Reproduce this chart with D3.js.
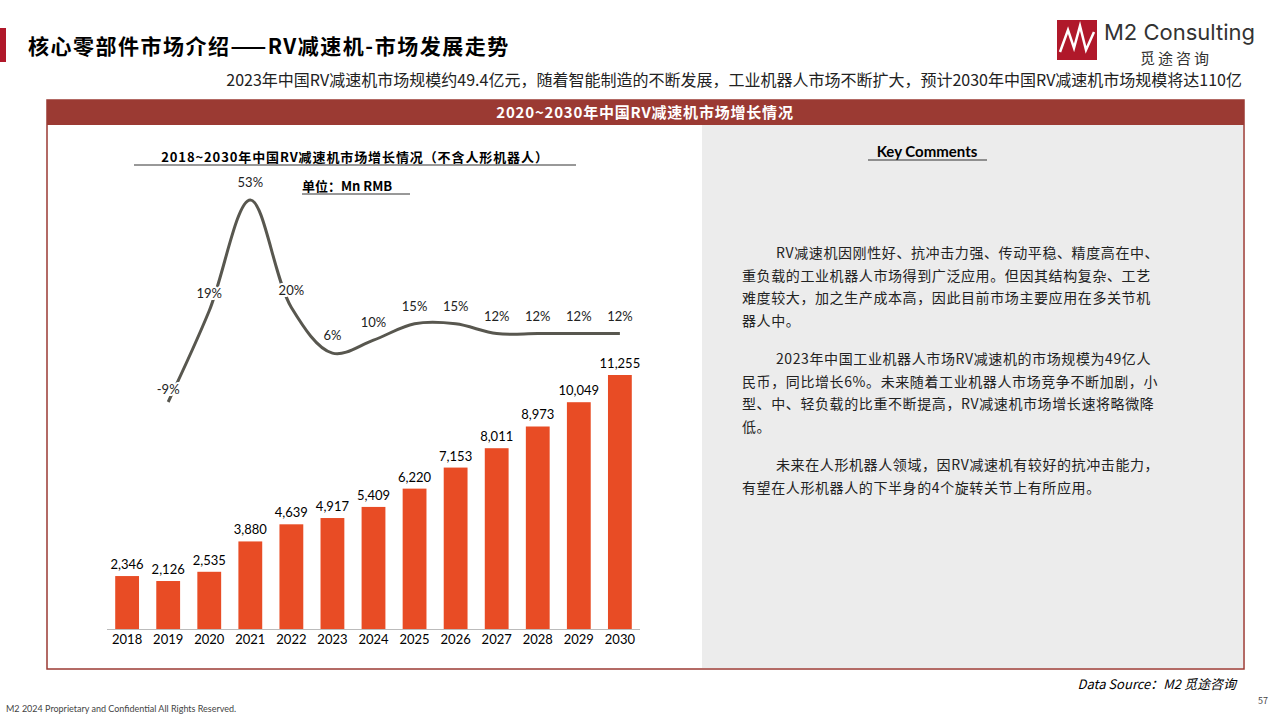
<!DOCTYPE html><html><head><meta charset="utf-8"><script src="https://cdn.jsdelivr.net/npm/d3@7"></script>
<style>body{margin:0;background:#fff;font-family:"Noto Sans CJK SC","Noto Sans",sans-serif}</style></head><body>
<svg id="c" width="1280" height="720"></svg>
<script>
const years=["2018","2019","2020","2021","2022","2023","2024","2025","2026","2027","2028","2029","2030"];
const sizes=[2346,2126,2535,3880,4639,4917,5409,6220,7153,8011,8973,10049,11255];
const growthYears=["2019","2020","2021","2022","2023","2024","2025","2026","2027","2028","2029","2030"];
const growth=[-9,19,53,20,6,10,15,15,12,12,12,12];
const growthLabels=["-9%","19%","53%","20%","6%","10%","15%","15%","12%","12%","12%","12%"];
const comments=[
["RV减速机因刚性好、抗冲击力强、传动平稳、精度高在中、","重负载的工业机器人市场得到广泛应用。但因其结构复杂、工艺","难度较大，加之生产成本高，因此目前市场主要应用在多关节机","器人中。"],
["2023年中国工业机器人市场RV减速机的市场规模为49亿人","民币，同比增长6%。未来随着工业机器人市场竞争不断加剧，小","型、中、轻负载的比重不断提高，RV减速机市场增长速将略微降","低。"],
["未来在人形机器人领域，因RV减速机有较好的抗冲击能力，","有望在人形机器人的下半身的4个旋转关节上有所应用。"]];
const svg=d3.select("#c");
const cjk='"Noto Sans CJK SC",sans-serif';
svg.append("rect").attr("x",0).attr("y",28).attr("width",6).attr("height",34).attr("fill","#b0182a");
svg.append("text").attr("x",28).attr("y",54).attr("font-size",21).attr("font-weight",700).attr("font-family",cjk).attr("letter-spacing",1.5).text("核心零部件市场介绍——RV减速机-市场发展走势");
svg.append("text").attr("x",1242).attr("y",86).attr("text-anchor","end").attr("font-size",16).attr("font-family",cjk).attr("fill","#222").text("2023年中国RV减速机市场规模约49.4亿元，随着智能制造的不断发展，工业机器人市场不断扩大，预计2030年中国RV减速机市场规模将达110亿");
svg.append("rect").attr("x",1057).attr("y",20).attr("width",40).attr("height",40).attr("fill","#b0182a");
svg.append("path").attr("d","M1060,52 L1068,30 L1074,48 L1080,26 L1086,50 L1094,32").attr("stroke","#fff").attr("stroke-width",2.5).attr("fill","none");
svg.append("text").attr("x",1104).attr("y",40).attr("font-size",22).attr("font-family","Inter,sans-serif").attr("fill","#333").text("M2 Consulting");
svg.append("text").attr("x",1140).attr("y",64).attr("font-size",15).attr("font-family",cjk).attr("fill","#333").attr("letter-spacing",3).text("觅途咨询");
svg.append("rect").attr("x",47).attr("y",100).attr("width",1197).attr("height",569).attr("fill","#fff").attr("stroke","#9b3a33").attr("stroke-width",1.5);
svg.append("rect").attr("x",702).attr("y",125).attr("width",541).attr("height",543).attr("fill","#ececec");
svg.append("rect").attr("x",47).attr("y",100).attr("width",1197).attr("height",25).attr("fill","#9b3a33");
svg.append("text").attr("x",645).attr("y",118).attr("text-anchor","middle").attr("fill","#fff").attr("font-size",15).attr("font-weight",700).attr("font-family",cjk).attr("letter-spacing",0.8).text("2020~2030年中国RV减速机市场增长情况");
svg.append("text").attr("x",355).attr("y",162).attr("text-anchor","middle").attr("font-size",13).attr("font-weight",700).attr("font-family",cjk).attr("letter-spacing",0.9).text("2018~2030年中国RV减速机市场增长情况（不含人形机器人）");
svg.append("line").attr("x1",134).attr("x2",576).attr("y1",165).attr("y2",165).attr("stroke","#333");
svg.append("text").attr("x",302).attr("y",191).attr("font-size",13).attr("font-weight",700).attr("font-family",cjk).text("单位：Mn RMB");
svg.append("line").attr("x1",302).attr("x2",410).attr("y1",194).attr("y2",194).attr("stroke","#333");
const x=d3.scaleBand().domain(years).range([107,640]).paddingInner(0.42).paddingOuter(0.2);
const y=d3.scaleLinear().domain([0,11255]).range([629,375]);
const yg=d3.scaleLinear().domain([-9,53]).range([402,200]);
svg.append("g").selectAll("rect").data(sizes).join("rect").attr("x",(d,i)=>x(years[i])).attr("width",x.bandwidth()).attr("y",d=>y(d)).attr("height",d=>629-y(d)).attr("fill","#e84c25");
svg.append("line").attr("x1",107).attr("x2",640).attr("y1",629.5).attr("y2",629.5).attr("stroke","#bbb");
const cx=yr=>x(yr)+x.bandwidth()/2;
svg.append("g").selectAll("text").data(sizes).join("text").attr("x",(d,i)=>cx(years[i])).attr("y",d=>y(d)-7).attr("text-anchor","middle").attr("font-size",13).attr("font-family","Lato,sans-serif").text(d=>d3.format(",")(d));
svg.append("g").attr("transform","translate(0,629)").call(d3.axisBottom(x).tickSize(0).tickPadding(6)).call(g=>{g.select(".domain").remove();g.selectAll("text").attr("font-size",13).attr("font-family","Lato,sans-serif").attr("fill","#000");});
svg.append("path").datum(growth).attr("d",d3.line().x((d,i)=>cx(growthYears[i])).y(d=>yg(d)).curve(d3.curveCatmullRom.alpha(0.5))).attr("fill","none").attr("stroke","#58574f").attr("stroke-width",3);
svg.append("g").selectAll("text").data(growth).join("text").attr("x",(d,i)=>cx(growthYears[i])).attr("y",(d,i)=>i===0?yg(d)-8:yg(d)-13).attr("text-anchor","middle").attr("font-size",13).attr("font-family","Lato,sans-serif").attr("fill","#222").attr("paint-order","stroke").attr("stroke",(d,i)=>(i===1||i===3||i===0)?"#fff":"none").attr("stroke-width",4).text((d,i)=>growthLabels[i]);
svg.append("text").attr("x",927).attr("y",157).attr("text-anchor","middle").attr("font-size",15).attr("font-weight",700).attr("font-family","Lato,sans-serif").text("Key Comments");
svg.append("line").attr("x1",868).attr("x2",987).attr("y1",160).attr("y2",160).attr("stroke","#333");
let yy=258;
comments.forEach(p=>{p.forEach((l,j)=>{svg.append("text").attr("x",j===0?776:742).attr("y",yy).attr("font-size",14).attr("font-family",cjk).attr("fill","#222").attr("letter-spacing",0.6).text(l);yy+=22.5;});yy+=16;});
svg.append("text").attr("x",1236).attr("y",689).attr("text-anchor","end").attr("font-size",13).attr("font-style","italic").attr("font-family",cjk).text("Data Source：M2 觅途咨询");
svg.append("text").attr("x",6).attr("y",712).attr("font-size",9).attr("fill","#444").attr("font-family","Lato,sans-serif").text("M2  2024 Proprietary and Confidential All Rights Reserved.");
svg.append("text").attr("x",1268).attr("y",704).attr("text-anchor","end").attr("font-size",9).attr("fill","#444").text("57");
</script></body></html>
